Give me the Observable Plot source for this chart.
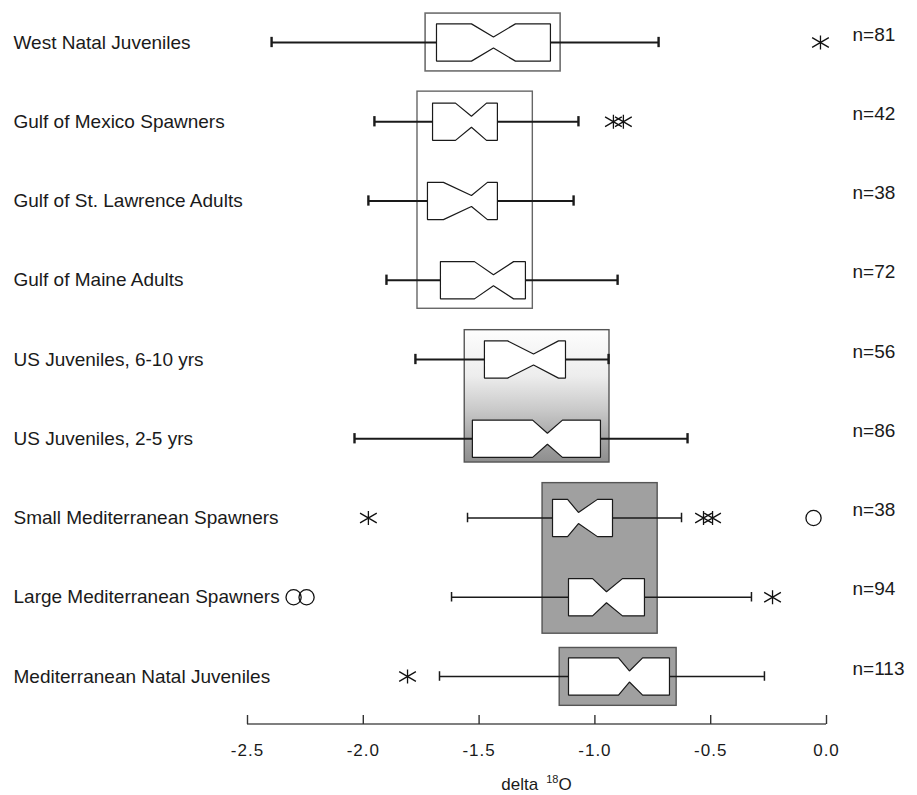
<!DOCTYPE html>
<html>
<head>
<meta charset="utf-8">
<script src="https://cdn.jsdelivr.net/npm/d3@7"></script>
<script src="https://cdn.jsdelivr.net/npm/@observablehq/plot@0.6"></script>
<style>
  body { margin: 0; background: #fff; }
  #chart svg { display: block; }
  g[aria-label="x-axis tick label"] text { letter-spacing: 1px; }
</style>
</head>
<body>
<div id="chart"></div>
<script>
// ---- data ----
const categories = [
  "West Natal Juveniles",
  "Gulf of Mexico Spawners",
  "Gulf of St. Lawrence Adults",
  "Gulf of Maine Adults",
  "US Juveniles, 6-10 yrs",
  "US Juveniles, 2-5 yrs",
  "Small Mediterranean Spawners",
  "Large Mediterranean Spawners",
  "Mediterranean Natal Juveniles"
];
const sampleSizes = [81, 42, 38, 72, 56, 86, 38, 94, 113];
const whiskerLow  = [-2.396, -1.952, -1.978, -1.900, -1.775, -2.038, -1.550, -1.619, -1.671];
const quartile1   = [-1.684, -1.701, -1.723, -1.667, -1.477, -1.529, -1.183, -1.114, -1.114];
const notchLow    = [-1.533, -1.602, -1.654, -1.520, -1.377, -1.269, -1.118, -1.010, -0.898];
const medians     = [-1.438, -1.533, -1.533, -1.438, -1.265, -1.205, -1.071, -0.950, -0.851];
const notchHigh   = [-1.343, -1.468, -1.464, -1.351, -1.157, -1.140, -0.989, -0.881, -0.794];
const quartile3   = [-1.192, -1.421, -1.421, -1.300, -1.127, -0.976, -0.924, -0.786, -0.678];
const whiskerHigh = [-0.725, -1.071, -1.092, -0.902, -0.941, -0.600, -0.626, -0.324, -0.268];

// outliers: row index, value, kind ("outside" = asterisk, "far" = circle)
const outlierRow   = [0, 1, 1, 6, 6, 6, 6, 7, 7, 7, 8];
const outlierValue = [-0.026, -0.920, -0.877, -1.978, -0.531, -0.492, -0.056, -2.301, -2.245, -0.233, -1.809];
const outlierKind  = ["outside", "outside", "outside", "outside", "outside", "outside", "far", "far", "far", "outside", "outside"];

// population groups (shaded rectangles)
const groupNames    = ["West Atlantic natal", "Gulf adults", "US juveniles", "Mediterranean spawners", "Mediterranean natal"];
const groupFirstRow = [0, 1, 4, 6, 8];
const groupLastRow  = [0, 3, 5, 7, 8];
const groupLow      = [-1.731, -1.766, -1.562, -1.226, -1.152];
const groupHigh     = [-1.148, -1.268, -0.937, -0.729, -0.647];

const xTicks = [-2.5, -2.0, -1.5, -1.0, -0.5, 0.0];

// ---- derived tables ----
const rows = categories.map((c, i) => i);
const HALF = 0.235, NOTCH = 0.165;   // box half-height and notch depth in row units
const boxPts = [];
rows.forEach(i => {
  [[quartile1[i], -HALF], [notchLow[i], -HALF], [medians[i], -HALF + NOTCH], [notchHigh[i], -HALF],
   [quartile3[i], -HALF], [quartile3[i], HALF], [notchHigh[i], HALF], [medians[i], HALF - NOTCH],
   [notchLow[i], HALF], [quartile1[i], HALF], [quartile1[i], -HALF]]
    .forEach(([x, o]) => boxPts.push({row: i, x, y: i + o}));
});
const outliers = outlierRow.map((r, k) => ({row: r, value: outlierValue[k], kind: outlierKind[k]}));
const groups = groupNames.map((g, k) => ({name: g, first: groupFirstRow[k], last: groupLastRow[k], lo: groupLow[k], hi: groupHigh[k]}));

// custom asterisk (vertical arm + two flat diagonals)
const asterisk = {
  draw(ctx, size) {
    const r = Math.sqrt(size / Math.PI);
    const v = r, L = r * 1.38, a = Math.PI / 6;
    const dx = L * Math.cos(a), dy = L * Math.sin(a);
    ctx.moveTo(0, -v); ctx.lineTo(0, v);
    ctx.moveTo(-dx, -dy); ctx.lineTo(dx, dy);
    ctx.moveTo(-dx, dy); ctx.lineTo(dx, -dy);
  }
};

const gradientDefs = () => {
  const defs = d3.create("svg:defs");
  const lg = defs.append("linearGradient").attr("id", "usGrad")
    .attr("x1", 0).attr("y1", 0).attr("x2", 0).attr("y2", 1);
  [[0, "#fdfdfd"], [0.35, "#ededed"], [0.6, "#cacaca"], [0.8, "#a8a8a8"], [1, "#8e8e8e"]]
    .forEach(([o, c]) => lg.append("stop").attr("offset", o).attr("stop-color", c));
  return defs.node();
};

const axisTitle = (index, scales, values, dims) => {
  const cx = (scales.x(xTicks[0]) + scales.x(xTicks[xTicks.length - 1])) / 2;
  const t = d3.create("svg:text")
    .attr("x", cx).attr("y", dims.height - 5)
    .attr("text-anchor", "middle").attr("font-size", 17).attr("fill", "#1a1a1a");
  t.append("tspan").text("delta");
  t.append("tspan").attr("dx", 8).attr("dy", -7).attr("font-size", 11).text("18");
  t.append("tspan").attr("dy", 7).text("O");
  return t.node();
};

const axisLine = (index, scales, values, dims) => {
  const y = dims.height - dims.marginBottom;
  return d3.create("svg:line")
    .attr("x1", dims.marginLeft).attr("x2", dims.width - dims.marginRight)
    .attr("y1", y).attr("y2", y)
    .attr("stroke", "#555").attr("stroke-width", 1.3).node();
};

const thick = i => i < 6;
const frameH = 795 - 14 - 71;

const chart = Plot.plot({
  width: 917,
  height: 795,
  marginLeft: 247,
  marginRight: 91,
  marginTop: 14,
  marginBottom: 71,
  x: {domain: [xTicks[0], xTicks[xTicks.length - 1]]},
  y: {domain: [0, categories.length - 1], range: [42, 676], axis: null},
  style: {fontFamily: "'Liberation Sans', Arial, Helvetica, sans-serif", fontSize: "19px", color: "#1a1a1a", background: "#fff"},
  marks: [
    gradientDefs,
    // group rectangles
    Plot.rect(groups.filter((g, k) => k === 0), {x1: "lo", x2: "hi", y1: d => d.first - 0.365, y2: d => d.last + 0.365, fill: "white", stroke: "#6e6e6e", strokeWidth: 1.6}),
    Plot.rect(groups.filter((g, k) => k === 1), {x1: "lo", x2: "hi", y1: d => d.first - 0.38, y2: d => d.last + 0.36, fill: "none", stroke: "#666", strokeWidth: 1.4}),
    Plot.rect(groups.filter((g, k) => k === 2), {x1: "lo", x2: "hi", y1: d => d.first - 0.37, y2: d => d.last + 0.3, fill: "url(#usGrad)", stroke: "#555", strokeWidth: 1.4}),
    Plot.rect(groups.filter((g, k) => k === 3), {x1: "lo", x2: "hi", y1: d => d.first - 0.44, y2: d => d.last + 0.46, fill: "#a0a0a0", stroke: "#555", strokeWidth: 1.4}),
    Plot.rect(groups.filter((g, k) => k === 4), {x1: "lo", x2: "hi", y1: d => d.first - 0.36, y2: d => d.last + 0.37, fill: "#a0a0a0", stroke: "#555", strokeWidth: 1.4}),
    // whiskers
    Plot.ruleY(rows.filter(thick), {y: i => i, x1: i => whiskerLow[i], x2: i => whiskerHigh[i], stroke: "#1a1a1a", strokeWidth: 2.2}),
    Plot.ruleY(rows.filter(i => !thick(i)), {y: i => i, x1: i => whiskerLow[i], x2: i => whiskerHigh[i], stroke: "#1a1a1a", strokeWidth: 1.3}),
    Plot.ruleX(rows.filter(thick), {x: i => whiskerLow[i], y1: i => i - 0.065, y2: i => i + 0.065, stroke: "#1a1a1a", strokeWidth: 2.4}),
    Plot.ruleX(rows.filter(thick), {x: i => whiskerHigh[i], y1: i => i - 0.065, y2: i => i + 0.065, stroke: "#1a1a1a", strokeWidth: 2.4}),
    Plot.ruleX(rows.filter(i => !thick(i)), {x: i => whiskerLow[i], y1: i => i - 0.06, y2: i => i + 0.06, stroke: "#1a1a1a", strokeWidth: 1.5}),
    Plot.ruleX(rows.filter(i => !thick(i)), {x: i => whiskerHigh[i], y1: i => i - 0.06, y2: i => i + 0.06, stroke: "#1a1a1a", strokeWidth: 1.5}),
    // notched boxes
    Plot.line(boxPts, {x: "x", y: "y", z: "row", fill: "white", stroke: "#1a1a1a", strokeWidth: 1.2, curve: "linear", strokeLinejoin: "miter"}),
    // outliers
    Plot.dot(outliers.filter(d => d.kind === "outside"), {x: "value", y: "row", symbol: asterisk, r: 7, stroke: "#111", strokeWidth: 1.3, fill: "none"}),
    Plot.dot(outliers.filter(d => d.kind === "far"), {x: "value", y: "row", symbol: "circle", r: 7.6, stroke: "#111", strokeWidth: 1.3, fill: "none"}),
    // category labels
    Plot.text(rows, {y: i => i, text: i => categories[i], frameAnchor: "left", textAnchor: "start", dx: -234, fontSize: 19, fill: "#1a1a1a"}),
    // sample sizes
    Plot.text(rows, {y: i => i, text: i => "n=" + sampleSizes[i], frameAnchor: "right", textAnchor: "start", dx: 26, dy: -8, fontSize: 19, fill: "#1a1a1a"}),
    // x axis
    axisLine,
    Plot.ruleX(xTicks, {x: d => d, insetTop: frameH - 9, stroke: "#333", strokeWidth: 1.4}),
    Plot.axisX({ticks: xTicks, tickSize: 0, tickPadding: 19, tickFormat: d => d.toFixed(1), fontSize: 17, label: null, fill: "#1a1a1a"}),
    axisTitle
  ]
});
document.getElementById("chart").appendChild(chart);
</script>
</body>
</html>
